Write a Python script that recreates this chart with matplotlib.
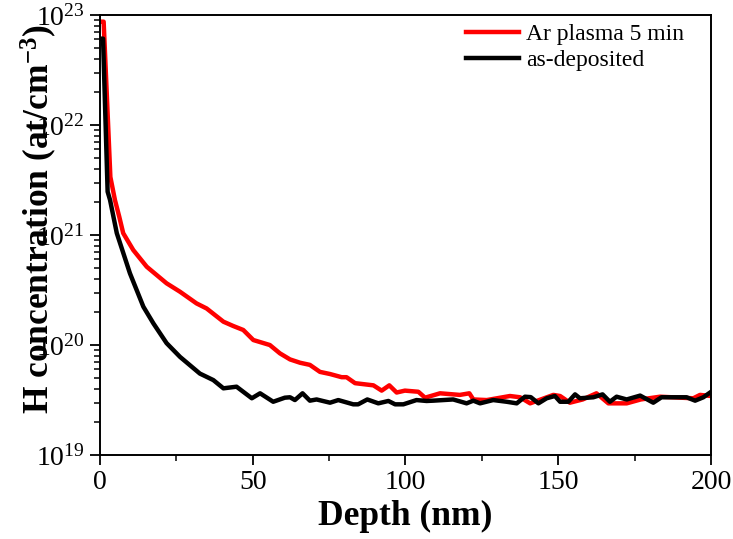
import numpy as np
import matplotlib
matplotlib.use("Agg")
import matplotlib.pyplot as plt
from matplotlib.ticker import FixedLocator, LogLocator, NullFormatter, MultipleLocator

plt.rcParams['font.family'] = ['Liberation Serif', 'DejaVu Serif']
plt.rcParams['mathtext.fontset'] = 'custom'
plt.rcParams['mathtext.rm'] = 'Liberation Serif'
plt.rcParams['mathtext.bf'] = 'Liberation Serif:bold'

# Ar plasma 5 min
ar_depth = [0.3, 1.2, 3.4, 4.9, 6.3, 7.6, 10.9, 15.3, 21.8, 26.2, 31.6, 34.9,
            40.4, 43.6, 46.9, 50.2, 55.6, 58.9, 62.2, 65.5, 68.7, 72.0, 75.3,
            79.1, 80.7, 83.5, 89.5, 92.2, 94.7, 97.1, 99.8, 104.2, 106.4,
            111.3, 117.8, 120.9, 122.2, 126.6, 134.2, 137.5, 140.8, 148.4,
            150.6, 153.8, 158.0, 162.5, 166.4, 172.4, 177.0, 183.3, 194.2,
            196.4, 200.0]
ar_conc = [8.7e22, 8.7e22, 3.37e21, 2.08e21, 1.47e21, 1.04e21, 7.3e20, 5.15e20,
           3.64e20, 3.05e20, 2.39e20, 2.15e20, 1.63e20, 1.49e20, 1.37e20,
           1.11e20, 1.0e20, 8.4e19, 7.4e19, 6.9e19, 6.6e19, 5.7e19, 5.45e19,
           5.1e19, 5.1e19, 4.5e19, 4.3e19, 3.85e19, 4.3e19, 3.7e19, 3.85e19,
           3.76e19, 3.32e19, 3.64e19, 3.52e19, 3.64e19, 3.2e19, 3.16e19,
           3.44e19, 3.35e19, 2.95e19, 3.52e19, 3.44e19, 2.99e19, 3.2e19,
           3.64e19, 2.95e19, 2.95e19, 3.2e19, 3.39e19, 3.28e19, 3.52e19,
           3.44e19]

# as-deposited
dep_depth = [0.3, 1.0, 2.5, 3.3, 5.5, 9.8, 14.2, 17.5, 21.8, 26.2, 32.7, 37.1,
             40.4, 44.7, 49.7, 52.4, 56.7, 60.5, 62.2, 63.8, 66.3, 68.7, 70.9,
             75.3, 78.0, 82.9, 84.5, 87.5, 91.1, 94.4, 96.6, 99.3, 103.6,
             106.9, 109.1, 115.6, 120.0, 122.2, 124.4, 128.7, 133.1, 136.4,
             139.1, 141.0, 143.5, 146.2, 148.9, 150.6, 153.3, 155.5, 157.1,
             161.5, 164.5, 166.9, 169.1, 172.4, 176.8, 181.1, 183.8, 192.0,
             194.8, 197.5, 199.7]
dep_conc = [6.1e22, 6.1e22, 2.48e21, 2.08e21, 1.04e21, 4.49e20, 2.23e20, 1.57e20,
            1.04e20, 7.8e19, 5.5e19, 4.8e19, 4.04e19, 4.18e19, 3.28e19,
            3.64e19, 3.05e19, 3.32e19, 3.35e19, 3.16e19, 3.64e19, 3.12e19,
            3.2e19, 2.99e19, 3.16e19, 2.89e19, 2.89e19, 3.2e19, 2.95e19,
            3.1e19, 2.89e19, 2.89e19, 3.16e19, 3.1e19, 3.12e19, 3.2e19,
            2.95e19, 3.12e19, 2.95e19, 3.16e19, 3.05e19, 2.95e19, 3.39e19,
            3.36e19, 2.95e19, 3.28e19, 3.44e19, 3.05e19, 3.05e19, 3.56e19,
            3.28e19, 3.35e19, 3.56e19, 3.05e19, 3.39e19, 3.2e19, 3.47e19,
            2.99e19, 3.35e19, 3.35e19, 3.12e19, 3.35e19, 3.7e19]

ytick_vals = [1e19, 1e20, 1e21, 1e22, 1e23]
ytick_labels = [r'$\mathregular{10^{19}}$', r'$\mathregular{10^{20}}$',
                r'$\mathregular{10^{21}}$', r'$\mathregular{10^{22}}$',
                r'$\mathregular{10^{23}}$']

fig = plt.figure(figsize=(7.33, 5.39), dpi=100)
ax = fig.add_axes([0.1364, 0.1558, 0.8336, 0.8163])

ax.plot(ar_depth, ar_conc, color='#ff0000', lw=3.2, label='Ar plasma 5 min')
ax.plot(dep_depth, dep_conc, color='black', lw=3.2, label='as-deposited')

ax.set_yscale('log')
ax.set_xlim(0, 200)
ax.set_ylim(1e19, 1e23)

ax.xaxis.set_major_locator(MultipleLocator(50))
ax.xaxis.set_minor_locator(MultipleLocator(25))
ax.yaxis.set_major_locator(FixedLocator(ytick_vals))
ax.yaxis.set_minor_locator(LogLocator(base=10, subs=np.arange(2, 10)))
ax.yaxis.set_minor_formatter(NullFormatter())
ax.set_yticklabels(ytick_labels)

ax.tick_params(which='major', direction='out', length=7, width=1.3,
               labelsize=20, pad=4)
ax.tick_params(which='minor', direction='out', length=4, width=1.1)
ax.tick_params(top=False, right=False)
for s in ax.spines.values():
    s.set_linewidth(1.4)

ax.set_xlabel('Depth (nm)', fontsize=25.5, fontweight='bold')
ax.xaxis.set_label_coords(0.5, -0.103)
ax.set_ylabel(r'H concentration (at/cm$\mathregular{^{-3}}$)', fontsize=25.5,
              fontweight='bold')
ax.yaxis.set_label_coords(-0.067, 0.535)

ax.legend(loc='upper right', frameon=False, fontsize=17, handlelength=2.25,
          handletextpad=0.3, labelspacing=0.2, borderaxespad=0.05,
          bbox_to_anchor=(0.974, 1.005))

fig.savefig('out.png', dpi=100)
